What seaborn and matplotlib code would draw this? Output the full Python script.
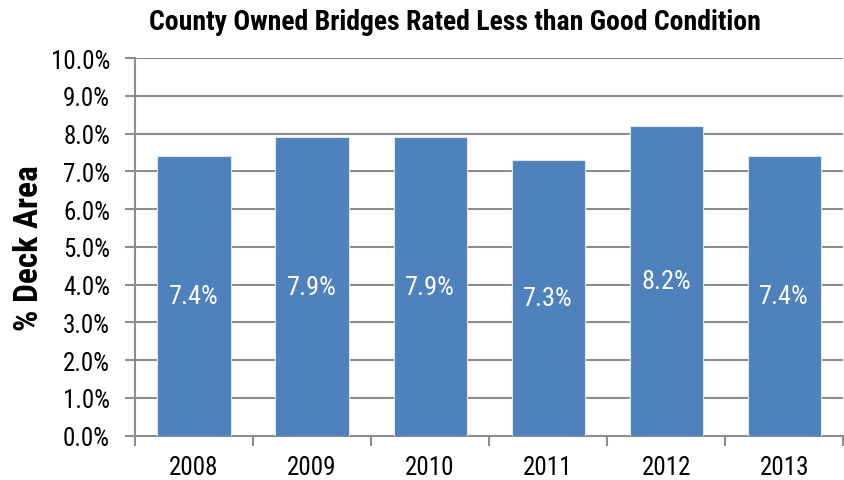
import pandas as pd
import seaborn as sns
import matplotlib.pyplot as plt
from matplotlib import font_manager
from matplotlib.ticker import FuncFormatter, FixedLocator

years = ["2008", "2009", "2010", "2011", "2012", "2013"]
pct_deck_area = [7.4, 7.9, 7.9, 7.3, 8.2, 7.4]
bar_labels = ["7.4%", "7.9%", "7.9%", "7.3%", "8.2%", "7.4%"]

df = pd.DataFrame({"year": years, "pct": pct_deck_area})

# pick a narrow font if one is there
font = "Liberation Sans"
narrow = False
for cand in ["Liberation Sans Narrow", "Roboto Condensed", "Open Sans Condensed"]:
    try:
        font_manager.findfont(cand, fallback_to_default=False)
        font = cand
        narrow = True
        break
    except Exception:
        pass

sns.set_style("white")
plt.rcParams['font.family'] = [font, 'DejaVu Sans']
plt.rcParams['text.color'] = 'black'
plt.rcParams['axes.labelcolor'] = 'black'
plt.rcParams['xtick.labelcolor'] = 'black'
plt.rcParams['ytick.labelcolor'] = 'black'
k = 1.0 if narrow else 0.86  # shrink sizes for a wider font

fig = plt.figure(figsize=(8.44, 4.81), dpi=100)
ax = fig.add_axes([0.16, 0.092, 0.839, 0.785])

sns.barplot(data=df, x="year", y="pct", color="#4F81BD", saturation=1,
            width=0.62, edgecolor="#dce6f2", linewidth=0.8, ax=ax, zorder=3)

ax.set_ylim(0, 10)
ax.set_xlim(-0.5, 5.5)
ax.yaxis.set_major_locator(FixedLocator([i for i in range(11)]))
ax.yaxis.set_major_formatter(FuncFormatter(lambda v, p: f"{v:.1f}%"))
ax.grid(axis="y", color="#8c8c8c", linewidth=1.5, zorder=0)
ax.set_axisbelow(True)

# category separators on x axis
ax.set_xticks([i - 0.5 for i in range(7)], minor=True)
ax.tick_params(axis="x", which="minor", length=7, width=1.5, color="#8c8c8c", direction="out")
ax.tick_params(axis="x", which="major", length=0, labelsize=18 * k, pad=14)
ax.tick_params(axis="y", length=7, width=1.5, color="#8c8c8c", direction="out", labelsize=18 * k, pad=11)
ax.tick_params(bottom=True, left=True, which="both")

for s in ["top", "right"]:
    ax.spines[s].set_visible(False)
for s in ["left", "bottom"]:
    ax.spines[s].set_color("#8c8c8c")
    ax.spines[s].set_linewidth(1.5)

for i, (v, lab) in enumerate(zip(pct_deck_area, bar_labels)):
    ax.text(i, v / 2, lab, ha="center", va="center", color="white", fontsize=19 * k, zorder=4)

ax.set_xlabel("")
ax.set_ylabel("% Deck Area", fontsize=24 * k, fontweight="bold", labelpad=4)
fig.text(0.539, 0.954, "County Owned Bridges Rated Less than Good Condition",
         ha="center", va="center", fontsize=20 * (1.0 if narrow else 0.8), fontweight="bold")

plt.savefig("out.png", dpi=100)
